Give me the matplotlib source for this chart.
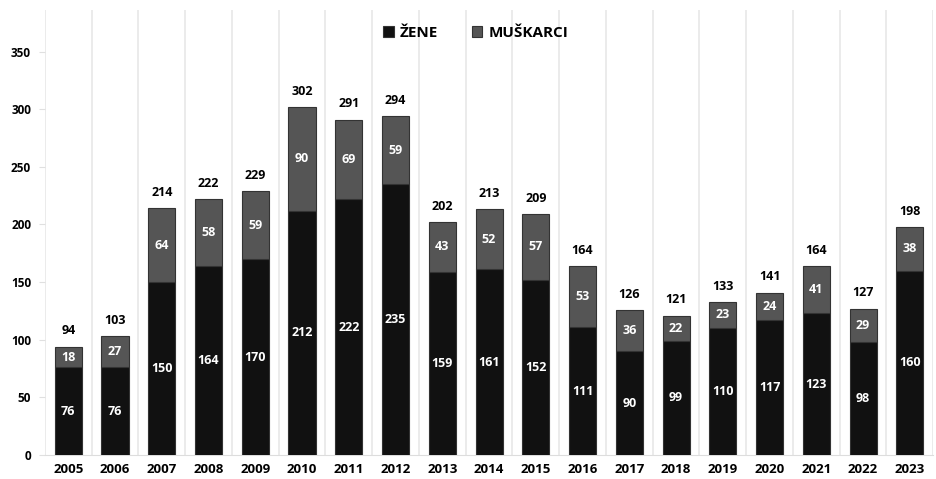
import numpy as np
import matplotlib
matplotlib.use("Agg")
import matplotlib.pyplot as plt

plt.rcParams['font.family'] = ['Open Sans', 'DejaVu Sans']

# Data
years = [str(y) for y in range(2005, 2024)]
zene = [76, 76, 150, 164, 170, 212, 222, 235, 159, 161, 152, 111, 90, 99, 110, 117, 123, 98, 160]
muskarci = [18, 27, 64, 58, 59, 90, 69, 59, 43, 52, 57, 53, 36, 22, 23, 24, 41, 29, 38]
totals = [z + m for z, m in zip(zene, muskarci)]

fig = plt.figure(figsize=(9.36, 4.79), dpi=100)
ax = fig.add_axes([0.048, 0.050, 0.949, 0.929])

x = np.arange(len(years))
w = 0.58
ax.bar(x, zene, w, color='#111111', edgecolor='#333333', linewidth=0.8, label='ŽENE', zorder=3)
ax.bar(x, muskarci, w, bottom=zene, color='#555555', edgecolor='#333333', linewidth=0.8,
       label='MUŠKARCI', zorder=3)

for xi, z, m, t in zip(x, zene, muskarci, totals):
    ax.text(xi, z / 2, str(z), ha='center', va='center', color='white', fontsize=9, fontweight='bold', zorder=4)
    ax.text(xi, z + m / 2, str(m), ha='center', va='center', color='white', fontsize=9, fontweight='bold', zorder=4)
    ax.text(xi, t + 8, str(t), ha='center', va='bottom', color='black', fontsize=9, fontweight='bold')

ax.set_xlim(-0.5, len(years) - 0.5)
ax.set_ylim(0, 386)
ax.set_xticks(x)
ax.set_xticklabels(years, fontsize=9.5, fontweight='bold')
ax.set_yticks(range(0, 351, 50))
ax.set_yticklabels([str(v) for v in range(0, 351, 50)], fontsize=8.5, fontweight='bold')
ax.tick_params(axis='x', length=0, pad=6)
ax.tick_params(axis='y', length=4, color='#e0e0e0', pad=6)

# vertical separators between categories
ax.set_xticks(np.arange(-0.5, len(years), 1), minor=True)
ax.tick_params(axis='x', which='minor', length=0)
ax.grid(axis='x', which='minor', color='#e8e8e8', linewidth=1.2, zorder=0)

for s in ['top', 'right', 'left']:
    ax.spines[s].set_visible(False)
ax.spines['bottom'].set_color('#dddddd')

ax.legend(loc='upper center', bbox_to_anchor=(0.485, 0.995), ncol=2, frameon=False,
          handlelength=0.7, handleheight=0.7, handletextpad=0.4, columnspacing=2.2,
          prop={'weight': 'bold', 'size': 11})

fig.savefig('out.png', dpi=100)
